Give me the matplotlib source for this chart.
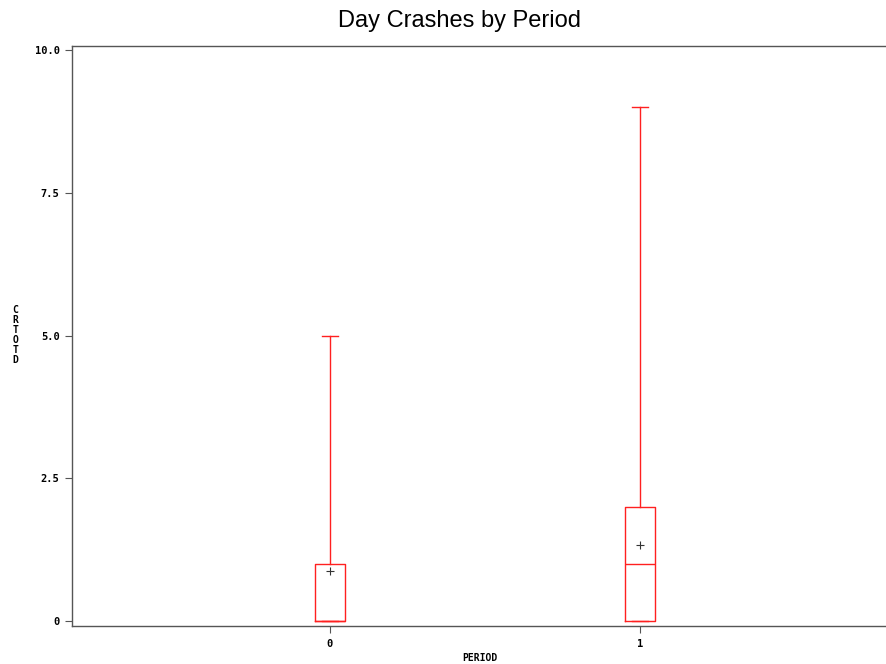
import matplotlib
matplotlib.use("Agg")
import matplotlib.pyplot as plt

# box summary per period
periods   = [0, 1]
q1        = [0.0, 0.0]
medians   = [0.0, 1.0]
q3        = [1.0, 2.0]
whisk_lo  = [0.0, 0.0]
whisk_hi  = [5.0, 9.0]
means     = [0.88, 1.33]

y_ticks       = [0, 2.5, 5.0, 7.5, 10.0]
y_tick_labels = ["0", "2.5", "5.0", "7.5", "10.0"]

stats = [
    {"label": str(p), "q1": a, "med": m, "q3": b,
     "whislo": lo, "whishi": hi, "mean": mu}
    for p, a, m, b, lo, hi, mu in zip(periods, q1, medians, q3, whisk_lo, whisk_hi, means)
]

fig = plt.figure(figsize=(8.87, 6.64), dpi=100)
ax = fig.add_axes([0.0812, 0.0572, 0.9188, 0.8735])

red = "#ff2020"
ax.bxp(stats, positions=periods, widths=0.097, capwidths=0.052,
       showmeans=True, showfliers=False, manage_ticks=False,
       boxprops=dict(color=red, linewidth=1),
       whiskerprops=dict(color=red, linewidth=1),
       capprops=dict(color=red, linewidth=1),
       medianprops=dict(color=red, linewidth=1),
       meanprops=dict(marker="+", markeredgecolor="#333333", markersize=5.5,
                      markeredgewidth=0.8))

ax.set_xlim(-0.832, 1.797)
ax.set_ylim(-0.088, 10.07)

ax.set_xticks(periods)
ax.set_xticklabels([str(p) for p in periods], fontsize=7.5, fontweight="bold",
                   family="DejaVu Sans Mono")
ax.set_yticks(y_ticks)
ax.set_yticklabels(y_tick_labels, fontsize=7.5, fontweight="bold",
                   family="DejaVu Sans Mono")
ax.tick_params(direction="out", length=5, width=0.8, color="#555555", pad=4)

for side in ["left", "bottom", "top"]:
    ax.spines[side].set_color("#555555")
    ax.spines[side].set_linewidth(1)
ax.spines["right"].set_visible(False)

ax.set_xlabel("PERIOD", fontsize=7, fontweight="bold", family="DejaVu Sans Mono",
              labelpad=3)
fig.text(0.017, 0.495, "\n".join("CRTOTD"), fontsize=7, fontweight="bold",
         family="DejaVu Sans Mono", ha="center", va="center", linespacing=1.0)

fig.suptitle("Day Crashes by Period", x=0.518, y=0.985, fontsize=17,
             family="Liberation Sans")

fig.savefig("out.png", dpi=100)
